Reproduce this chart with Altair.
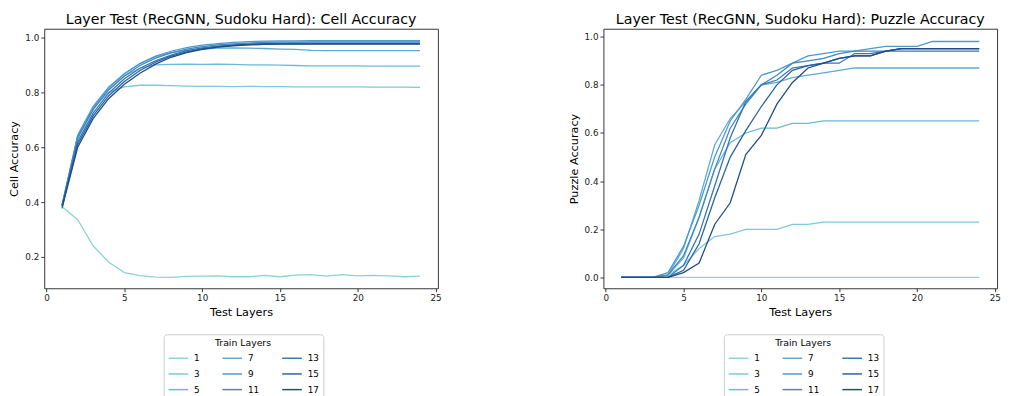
import altair as alt
import pandas as pd

test_layers = list(range(1, 25))
train_layers = [1, 3, 5, 7, 9, 11, 13, 15, 17]
colors = ["#8dd3d3", "#7cc8dc", "#6cbadb", "#5caad5", "#4c9acd", "#3f88c2", "#3475b3", "#2a629f", "#1d4c88"]

cell_acc = {
    1: [0.383, 0.336, 0.240, 0.181, 0.143, 0.132, 0.127, 0.126, 0.129, 0.130, 0.131, 0.128, 0.128, 0.133, 0.128, 0.134, 0.136, 0.130, 0.136, 0.131, 0.133, 0.131, 0.128, 0.130],
    3: [0.375, 0.640, 0.745, 0.800, 0.820, 0.826, 0.826, 0.825, 0.823, 0.822, 0.822, 0.821, 0.822, 0.821, 0.821, 0.820, 0.820, 0.820, 0.820, 0.820, 0.819, 0.819, 0.819, 0.818],
    5: [0.385, 0.630, 0.740, 0.810, 0.860, 0.888, 0.900, 0.902, 0.903, 0.902, 0.903, 0.902, 0.900, 0.900, 0.899, 0.898, 0.897, 0.897, 0.897, 0.897, 0.896, 0.896, 0.896, 0.896],
    7: [0.390, 0.645, 0.750, 0.820, 0.868, 0.905, 0.930, 0.945, 0.953, 0.958, 0.961, 0.962, 0.961, 0.960, 0.958, 0.957, 0.953, 0.952, 0.952, 0.952, 0.952, 0.952, 0.952, 0.952],
    9: [0.390, 0.640, 0.745, 0.818, 0.868, 0.905, 0.932, 0.950, 0.963, 0.972, 0.978, 0.982, 0.985, 0.987, 0.988, 0.988, 0.989, 0.989, 0.989, 0.989, 0.989, 0.989, 0.989, 0.989],
    11: [0.390, 0.635, 0.738, 0.810, 0.860, 0.898, 0.925, 0.944, 0.958, 0.967, 0.973, 0.977, 0.980, 0.982, 0.983, 0.983, 0.984, 0.984, 0.984, 0.984, 0.984, 0.984, 0.984, 0.984],
    13: [0.385, 0.620, 0.725, 0.798, 0.850, 0.888, 0.915, 0.936, 0.952, 0.962, 0.969, 0.973, 0.976, 0.978, 0.979, 0.980, 0.980, 0.980, 0.980, 0.980, 0.980, 0.980, 0.980, 0.980],
    15: [0.385, 0.610, 0.715, 0.788, 0.840, 0.880, 0.910, 0.932, 0.948, 0.959, 0.966, 0.971, 0.974, 0.976, 0.977, 0.977, 0.978, 0.978, 0.978, 0.978, 0.978, 0.978, 0.978, 0.978],
    17: [0.380, 0.600, 0.705, 0.778, 0.830, 0.870, 0.903, 0.928, 0.945, 0.957, 0.965, 0.970, 0.973, 0.975, 0.976, 0.976, 0.976, 0.976, 0.976, 0.976, 0.976, 0.976, 0.976, 0.976],
}

puzzle_acc = {
    1: [0.0] * 24,
    3: [0.0, 0.0, 0.0, 0.01, 0.05, 0.12, 0.17, 0.18, 0.20, 0.20, 0.20, 0.22, 0.22, 0.23, 0.23, 0.23, 0.23, 0.23, 0.23, 0.23, 0.23, 0.23, 0.23, 0.23],
    5: [0.0, 0.0, 0.0, 0.01, 0.08, 0.25, 0.45, 0.56, 0.60, 0.62, 0.62, 0.64, 0.64, 0.65, 0.65, 0.65, 0.65, 0.65, 0.65, 0.65, 0.65, 0.65, 0.65, 0.65],
    7: [0.0, 0.0, 0.0, 0.01, 0.12, 0.32, 0.55, 0.66, 0.73, 0.80, 0.81, 0.83, 0.84, 0.85, 0.86, 0.87, 0.87, 0.87, 0.87, 0.87, 0.87, 0.87, 0.87, 0.87],
    9: [0.0, 0.0, 0.0, 0.02, 0.13, 0.30, 0.50, 0.65, 0.74, 0.84, 0.86, 0.89, 0.92, 0.93, 0.94, 0.94, 0.95, 0.96, 0.96, 0.96, 0.98, 0.98, 0.98, 0.98],
    11: [0.0, 0.0, 0.0, 0.01, 0.09, 0.25, 0.45, 0.62, 0.72, 0.80, 0.84, 0.89, 0.90, 0.91, 0.93, 0.94, 0.94, 0.94, 0.95, 0.95, 0.95, 0.95, 0.95, 0.95],
    13: [0.0, 0.0, 0.0, 0.0, 0.05, 0.18, 0.38, 0.58, 0.73, 0.80, 0.82, 0.87, 0.88, 0.89, 0.89, 0.93, 0.93, 0.94, 0.94, 0.94, 0.94, 0.94, 0.94, 0.94],
    15: [0.0, 0.0, 0.0, 0.0, 0.03, 0.14, 0.33, 0.50, 0.61, 0.71, 0.80, 0.86, 0.88, 0.89, 0.91, 0.92, 0.92, 0.94, 0.95, 0.95, 0.95, 0.95, 0.95, 0.95],
    17: [0.0, 0.0, 0.0, 0.0, 0.02, 0.06, 0.22, 0.31, 0.51, 0.59, 0.72, 0.81, 0.87, 0.89, 0.91, 0.92, 0.92, 0.94, 0.95, 0.95, 0.95, 0.95, 0.95, 0.95],
}


def make_df(d):
    rows = []
    for t in train_layers:
        for x, v in zip(test_layers, d[t]):
            rows.append({"Test Layers": x, "value": v, "Train Layers": t})
    return pd.DataFrame(rows)


FONT = "DejaVu Sans"
W, H = 402, 265


def panel(df, title, ytitle, ydomain, yticks, legend_x):
    return alt.Chart(df).mark_line(strokeWidth=1.3).encode(
        x=alt.X("Test Layers:Q",
                scale=alt.Scale(domain=[-0.15, 25.15], nice=False, zero=False),
                axis=alt.Axis(values=[0, 5, 10, 15, 20, 25], format="d", title="Test Layers")),
        y=alt.Y("value:Q",
                scale=alt.Scale(domain=ydomain, nice=False, zero=False),
                axis=alt.Axis(values=yticks, format=".1f", title=ytitle)),
        color=alt.Color("Train Layers:N",
                        scale=alt.Scale(domain=train_layers, range=colors),
                        legend=alt.Legend(
                            orient="none", legendX=legend_x, legendY=312, columns=3,
                            symbolType="stroke", symbolSize=400, symbolStrokeWidth=1.5,
                            titleAnchor="middle", strokeColor="#cccccc", cornerRadius=3,
                            padding=4, fillColor="white", labelFontSize=9, titleFontSize=9.5,
                            titleFontWeight="normal", columnPadding=20, labelOffset=5,
                            rowPadding=0, titlePadding=0, labelFont=FONT, titleFont=FONT,
                            labelColor="#000000", titleColor="#000000")),
        detail="Train Layers:N",
    ).properties(
        width=W, height=H,
        title=alt.TitleParams(title, fontSize=14.5, font=FONT, fontWeight="normal", color="#000000", offset=1),
    )


left = panel(make_df(cell_acc), "Layer Test (RecGNN, Sudoku Hard): Cell Accuracy", "Cell Accuracy",
             [0.086, 1.032], [0.2, 0.4, 0.6, 0.8, 1.0], 122)
right = panel(make_df(puzzle_acc), "Layer Test (RecGNN, Sudoku Hard): Puzzle Accuracy", "Puzzle Accuracy",
              [-0.045, 1.033], [0.0, 0.2, 0.4, 0.6, 0.8, 1.0], 123)

chart = alt.hconcat(left, right, spacing=128).resolve_scale(color="independent").resolve_legend(
    color="independent"
).properties(padding=0).configure_view(stroke="#333333", strokeWidth=1).configure_axis(
    grid=False, domain=False, tickColor="#333333", tickSize=3.5, tickWidth=1,
    labelFont=FONT, labelFontSize=9, labelColor="#222222", labelPadding=2,
    titleFont=FONT, titleFontSize=11.5, titleFontWeight="normal", titleColor="#000000",
).configure_axisY(titlePadding=5).configure_axisX(titlePadding=4)

chart.save("out.html", embed_options={"renderer": "svg", "actions": False})
